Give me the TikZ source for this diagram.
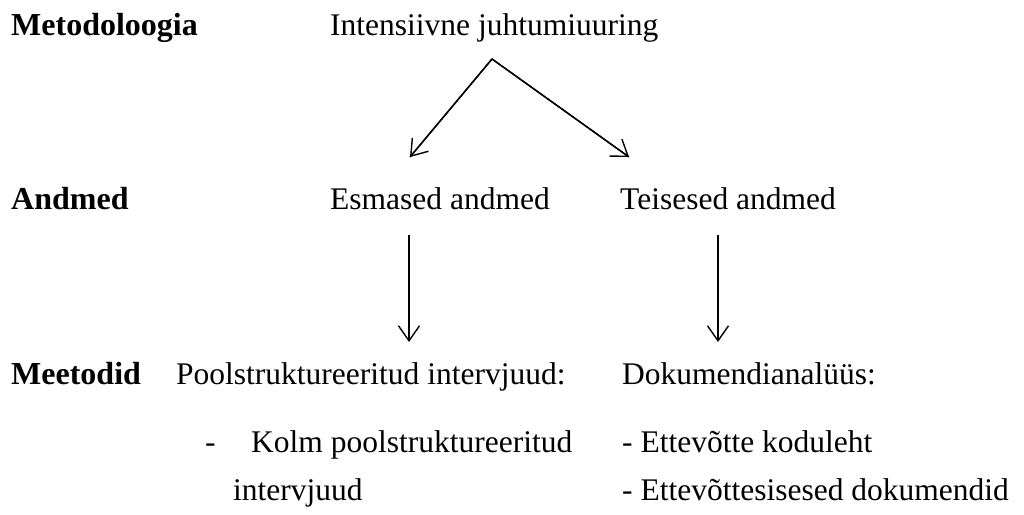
\documentclass[tikz,border=0pt]{standalone}
\usepackage{fontspec}
\setmainfont{Liberation Serif}
\usetikzlibrary{arrows.meta}
\begin{document}
\begin{tikzpicture}[x=1pt,y=-1pt,
  txt/.style={anchor=base west,inner sep=0pt,font=\fontsize{31.5}{36}\selectfont},
  head/.style={txt,font=\fontsize{32}{36}\selectfont\bfseries},
  link/.style={line width=1.4pt,-{Straight Barb[length=15pt,width=21pt,line width=1.4pt]}}]
\useasboundingbox (0,0) rectangle (1024,514);
% row labels
\node[head] (metod) at (11,35) {Metodoloogia};
\node[head] (andmed) at (11,209) {Andmed};
\node[head] (meetod) at (11,384) {Meetodid};
% methodology
\node[txt] (juhtum) at (330,35) {Intensiivne juhtumiuuring};
% data
\node[txt] (esmased) at (330,209) {Esmased andmed};
\node[txt] (teisesed) at (620,209) {Teisesed andmed};
% methods
\node[txt] (intervjuu) at (176,384) {Poolstruktureeritud intervjuud:};
\node[txt] (dash) at (205,452) {-};
\node[txt] (kolm) at (251,452) {Kolm poolstruktureeritud};
\node[txt] (kolm2) at (233,500) {intervjuud};
\node[txt] (dokanal) at (622,384) {Dokumendianalüüs:};
\node[txt] (kodu) at (622,452) {- Ettevõtte koduleht};
\node[txt] (sise) at (622,500) {- Ettevõttesisesed dokumendid};
% connector end points
\coordinate (apex) at (492,59);
\coordinate (esmTip) at (410,157);
\coordinate (teiTip) at (629,157);
\coordinate (esmOut) at (409,235);
\coordinate (intIn) at (409,342);
\coordinate (teiOut) at (718,235);
\coordinate (dokIn) at (718,342);
\draw[line width=1.4pt,line join=miter] (esmTip) -- (apex) -- (teiTip);
\draw[link] (apex) -- (esmTip);
\draw[link] (apex) -- (teiTip);
\draw[link] (esmOut) -- (intIn);
\draw[link] (teiOut) -- (dokIn);
\end{tikzpicture}
\end{document}
